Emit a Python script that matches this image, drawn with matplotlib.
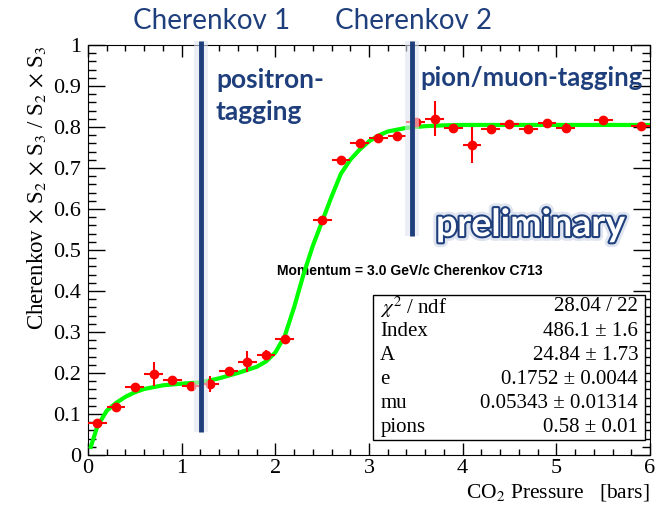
import matplotlib
matplotlib.use("Agg")
import matplotlib.pyplot as plt
import matplotlib.patheffects as pe
from matplotlib.patches import Rectangle
from matplotlib.ticker import MultipleLocator

# measured points: bin centre, value, vertical error
pressure = [0.1, 0.3, 0.5, 0.7, 0.9, 1.1, 1.3, 1.5, 1.7, 1.9, 2.1,
            2.5, 2.7, 2.9, 3.1, 3.3, 3.5, 3.7, 3.9, 4.1, 4.3, 4.5,
            4.7, 4.9, 5.1, 5.5, 5.9]
ratio = [0.077, 0.117, 0.167, 0.198, 0.183, 0.168, 0.173, 0.206, 0.228, 0.243, 0.283,
         0.572, 0.720, 0.760, 0.772, 0.778, 0.812, 0.820, 0.798, 0.756, 0.794, 0.808,
         0.794, 0.810, 0.798, 0.816, 0.802]
ratio_err = [0.010, 0.008, 0.007, 0.030, 0.007, 0.007, 0.020, 0.007, 0.025, 0.012, 0.006,
             0.006, 0.010, 0.006, 0.005, 0.005, 0.010, 0.043, 0.008, 0.043, 0.006, 0.010,
             0.012, 0.008, 0.012, 0.008, 0.007]
bin_half = 0.1

# fitted curve
fit_x = [0.03, 0.1, 0.2, 0.3, 0.4, 0.5, 0.6, 0.8, 1.0, 1.2, 1.4, 1.6, 1.8, 1.9, 2.0,
         2.1, 2.2, 2.3, 2.4, 2.5, 2.6, 2.7, 2.8, 2.9, 3.0, 3.1, 3.2, 3.4, 3.6, 3.8,
         4.0, 6.0]
fit_y = [0.02, 0.07, 0.108, 0.127, 0.142, 0.153, 0.161, 0.170, 0.174, 0.177, 0.187,
         0.200, 0.215, 0.228, 0.250, 0.29, 0.36, 0.44, 0.51, 0.57, 0.63, 0.686, 0.72,
         0.745, 0.765, 0.779, 0.789, 0.798, 0.802, 0.804, 0.805, 0.805]

# Cherenkov thresholds: x position, line bottom, line top
cut_x = [1.21, 3.46]
cut_lo = [0.057, 0.535]
cut_hi = [1.01, 1.01]

stat_names = [r"$\chi^2$ / ndf", "Index", "A", "e", "mu", "pions"]
stat_values = ["28.04 / 22", "486.1 ± 1.6", "24.84 ± 1.73", "0.1752 ± 0.0044",
               "0.05343 ± 0.01314", "0.58 ± 0.01"]

navy = "#1f3f7c"
plt.rcParams["font.family"] = ["Liberation Serif", "DejaVu Serif"]
plt.rcParams["mathtext.fontset"] = "stix"

fig = plt.figure(figsize=(6.58, 5.09), dpi=100)
ax = fig.add_axes([88 / 658, 54 / 509, 562 / 658, 410 / 509])

ax.plot(fit_x, fit_y, color="#00ff00", lw=3, zorder=3)
ax.errorbar(pressure, ratio, yerr=ratio_err, xerr=bin_half, fmt="o", color="red",
            ms=6, elinewidth=1.5, capsize=0, zorder=4)

for x, lo, hi in zip(cut_x, cut_lo, cut_hi):
    ax.plot([x, x], [lo, hi], color="#dfe4ef", lw=10, alpha=0.6, solid_capstyle="butt",
            clip_on=False, zorder=5)
    ax.plot([x, x], [lo, hi], color=navy, lw=3.5, solid_capstyle="butt",
            clip_on=False, zorder=6)

ax.set_xlim(0, 6)
ax.set_ylim(0, 1)
ax.xaxis.set_major_locator(MultipleLocator(1))
ax.xaxis.set_minor_locator(MultipleLocator(0.2))
ax.yaxis.set_major_locator(MultipleLocator(0.1))
ax.yaxis.set_minor_locator(MultipleLocator(0.02))
ax.set_xticks([0, 1, 2, 3, 4, 5, 6], ["0", "1", "2", "3", "4", "5", "6"])
ax.set_yticks([i / 10 for i in range(11)],
              ["0", "0.1", "0.2", "0.3", "0.4", "0.5", "0.6", "0.7", "0.8", "0.9", "1"])
ax.tick_params(axis="both", which="both", direction="in", top=True, right=True,
               labelsize=16, width=1)
ax.tick_params(axis="x", which="major", length=8.6, pad=3)
ax.tick_params(axis="x", which="minor", length=4.3)
ax.tick_params(axis="y", which="major", length=12.5, pad=5)
ax.tick_params(axis="y", which="minor", length=6)

ax.set_xlabel("CO$_2$ Pressure   [bars]", fontsize=15.5, loc="right", labelpad=3)
ax.set_ylabel(r"Cherenkov $\times$ S$_2$ $\times$ S$_3$ / S$_2$ $\times$ S$_3$",
              fontsize=16.5, loc="top", labelpad=4)

# fit statistics box
box = Rectangle((0.507, 0.037), 0.484, 0.353, transform=ax.transAxes,
                facecolor="white", edgecolor="black", lw=1, zorder=7)
ax.add_patch(box)
for i, (name, val) in enumerate(zip(stat_names, stat_values)):
    yy = 0.361 - i * 0.0589
    ax.text(0.52, yy, name, transform=ax.transAxes, fontsize=15, va="center",
            ha="left", zorder=8)
    ax.text(0.979, yy, val, transform=ax.transAxes, fontsize=15, va="center",
            ha="right", zorder=8)

ax.text(0.623 * 658 / 562 - 88 / 562, (509 * 0.467 - 54) / 410,
        "Momentum = 3.0 GeV/c Cherenkov C713", transform=ax.transAxes,
        fontsize=10, fontweight="bold", family="Liberation Sans",
        ha="center", va="center", zorder=2)

# slide annotations
sans = ["Lato", "DejaVu Sans"]
fig.text(133 / 658, 1 - 21 / 509, "Cherenkov 1", color=navy, fontsize=20,
         family=sans, ha="left", va="center")
fig.text(335 / 658, 1 - 21 / 509, "Cherenkov 2", color=navy, fontsize=20,
         family=sans, ha="left", va="center")
fig.text(216 / 658, 1 - 80 / 509, "positron-", color=navy, fontsize=19,
         family=sans, fontweight="bold", ha="left", va="center", zorder=9)
fig.text(216 / 658, 1 - 112 / 509, "tagging", color=navy, fontsize=19,
         family=sans, fontweight="bold", ha="left", va="center", zorder=9)
fig.text(420 / 658, 1 - 78 / 509, "pion/muon-tagging", color=navy, fontsize=18.5,
         family=sans, fontweight="bold", ha="left", va="center", zorder=9)
fig.text(436 / 658, 1 - 225 / 509, "preliminary", color="white", fontsize=27,
         family=sans, fontweight="bold", ha="left", va="center", zorder=9,
         path_effects=[pe.Stroke(linewidth=7, foreground="#c9d3e6", alpha=0.6),
                       pe.Stroke(linewidth=3, foreground=navy), pe.Normal()])

fig.savefig("out.png", dpi=100)
